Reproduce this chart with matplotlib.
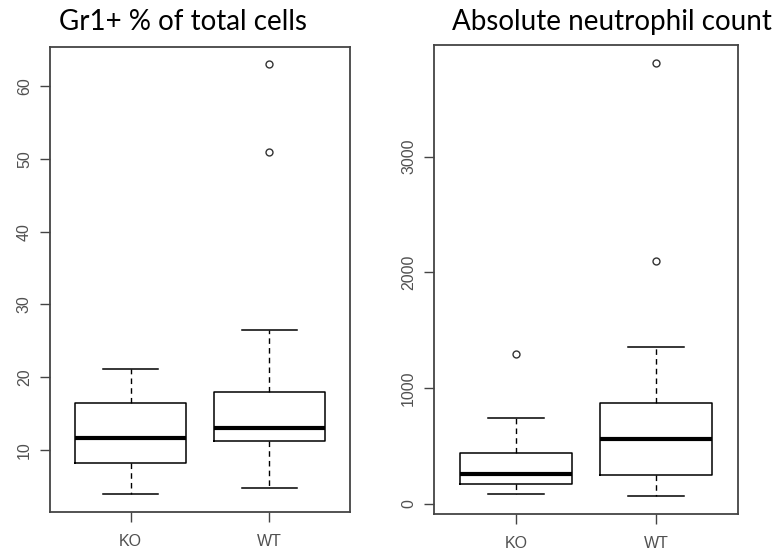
import matplotlib
matplotlib.use("Agg")
import matplotlib.pyplot as plt

groups = ["KO", "WT"]

# Gr1+ % of total cells: five-number summaries and outliers
gr1_low = [3.9, 4.7]
gr1_q1 = [8.2, 11.2]
gr1_med = [11.6, 13.0]
gr1_q3 = [16.5, 17.9]
gr1_high = [21.1, 26.5]
gr1_out = [[], [51.0, 63.0]]

# Absolute neutrophil count
anc_low = [86, 69]
anc_q1 = [170, 248]
anc_med = [262, 561]
anc_q3 = [438, 872]
anc_high = [740, 1353]
anc_out = [[1293], [2098, 3806]]

gr1_ticks = [10, 20, 30, 40, 50, 60]
anc_ticks = [0, 1000, 2000, 3000]


def stats(low, q1, med, q3, high, out):
    return [dict(whislo=low[i], q1=q1[i], med=med[i], q3=q3[i], whishi=high[i],
                 fliers=out[i], label=groups[i]) for i in range(len(groups))]


def draw(ax, st, ticks, ylim):
    ax.bxp(st, positions=[1, 2], widths=0.8,
           boxprops=dict(color="black", linewidth=1.1),
           medianprops=dict(color="black", linewidth=3.0, solid_capstyle="butt"),
           whiskerprops=dict(color="black", linewidth=1.0, linestyle=(0, (4, 3))),
           capprops=dict(color="black", linewidth=1.1),
           capwidths=0.4,
           flierprops=dict(marker="o", markersize=5, markerfacecolor="white",
                           markeredgecolor="#333333", markeredgewidth=1.0))
    ax.set_xlim(0.42, 2.58)
    ax.set_ylim(*ylim)
    ax.set_yticks(ticks)
    ax.set_yticklabels([str(t) for t in ticks], rotation=90, va="center")
    ax.set_xticks([1, 2])
    ax.set_xticklabels(groups)
    for s in ax.spines.values():
        s.set_color("#444444")
        s.set_linewidth(1.3)
    ax.tick_params(axis="both", length=7, width=1.0, color="#444444",
                   labelcolor="#505050", labelsize=11.5)
    ax.tick_params(axis="y", pad=6)
    ax.tick_params(axis="x", pad=9)


fig = plt.figure(figsize=(7.8, 5.55), dpi=100)
plt.rcParams["font.family"] = ["Liberation Sans", "DejaVu Sans"]

ax1 = fig.add_axes([0.0641, 0.0775, 0.3846, 0.8378])
draw(ax1, stats(gr1_low, gr1_q1, gr1_med, gr1_q3, gr1_high, gr1_out),
     gr1_ticks, (1.47, 65.4))

ax2 = fig.add_axes([0.5568, 0.0739, 0.389, 0.845])
draw(ax2, stats(anc_low, anc_q1, anc_med, anc_q3, anc_high, anc_out),
     anc_ticks, (-86, 3964))

fig.text(183 / 780, 1 - 30 / 555, "Gr1+ % of total cells", family="Lato",
         fontsize=20, ha="center", va="baseline", color="black")
fig.text(612 / 780, 1 - 30 / 555, "Absolute neutrophil count", family="Lato",
         fontsize=20, ha="center", va="baseline", color="black")

fig.savefig("out.png", dpi=100)
